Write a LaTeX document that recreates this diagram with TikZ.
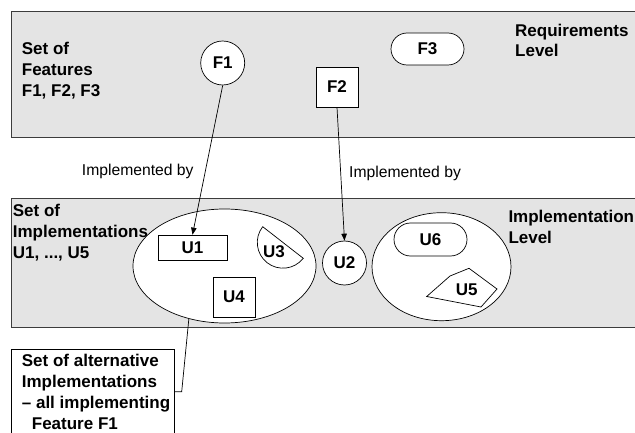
\documentclass[tikz,border=0pt]{standalone}
\usepackage{fontspec}
\setmainfont{Liberation Sans}
\usetikzlibrary{shapes.geometric,arrows.meta}
\definecolor{bandgray}{RGB}{228,228,228}
\definecolor{edgegray}{RGB}{60,60,60}
\begin{document}
\begin{tikzpicture}[x=1pt,y=1pt,yscale=-1,
  band/.style={fill=bandgray,draw=edgegray,line width=0.8pt},
  bfont/.style={font=\bfseries\fontsize{17}{20.8}\selectfont},
  lbl/.style={bfont,align=left,inner sep=0pt,anchor=north west},
  implby/.style={font=\fontsize{15.7}{19}\selectfont,inner sep=0pt,anchor=base west},
  shp/.style={draw=black,fill=white,line width=0.7pt,bfont,inner sep=0pt},
  txt/.style={bfont,inner sep=0pt},
  conn/.style={draw=black,line width=0.7pt},
  arr/.style={conn,-{Triangle[length=7pt,width=5.5pt]}},
  group/.style={ellipse,draw=black,fill=white,line width=0.7pt,inner sep=0pt}]

\useasboundingbox (0,0) rectangle (635,433);
\clip (0,0) rectangle (635,433);

% the two levels
\path[band] (11,11) rectangle (645,137);
\path[band] (11,198) rectangle (645,327);

% requirements level
\node[lbl] (featset) at (21.7,41.9) {Set of\\Features\\F1, F2, F3};
\node[lbl] (reqlvl) at (515,23.6) {Requirements\\Level};
\node[shp,circle,minimum size=44pt] (F1) at (222.7,63) {F1};
\node[shp,rectangle,minimum width=42pt,minimum height=40pt] (F2) at (337,87) {F2};
\node[shp,rectangle,rounded corners=16pt,minimum width=73pt,minimum height=32pt] (F3) at (427.5,49) {F3};

% implementation level
\node[lbl] (implset) at (12.7,204.3) {Set of\\Implementations\\U1, ..., U5};
\node[lbl] (impllvl) at (508.3,210.3) {Implementation\\Level};

\node[group,minimum width=183pt,minimum height=114pt] (E1) at (224.5,266) {};
\node[group,minimum width=139pt,minimum height=108pt] (E2) at (441.5,266.7) {};

\node[shp,rectangle,minimum width=69pt,minimum height=25pt] (U1) at (192.5,247.5) {U1};
\node[shp,circle,minimum size=44pt] (U2) at (344.5,263) {U2};
\node[shp,rectangle,minimum width=42pt,minimum height=40pt] (U4) at (234,297) {U4};
\node[shp,rectangle,rounded corners=16.5pt,minimum width=73pt,minimum height=33pt] (U6) at (430.5,239.5) {U6};

% U3: circular segment
\draw[draw=black,fill=white,line width=0.7pt] (262.7,226.7)
  arc[start angle=217.9,end angle=37.9,radius=25.7] -- cycle;
\node[txt] (U3) at (274,252) {U3};

% U5: pentagon
\draw[draw=black,fill=white,line width=0.7pt] (426.7,296.5) -- (450,276) -- (469,268.3)
  -- (497,289) -- (481,307) -- cycle;
\node[txt] (U5) at (466.7,290) {U5};

% realisation arrows
\draw[arr] (F1.south) -- (U1.north);
\draw[arr] (F2.south) -- (U2.north);
\node[implby] (ib1) at (81.7,176) {Implemented by};
\node[implby] (ib2) at (349,178) {Implemented by};

% callout for the group of alternatives
\coordinate (boxNW) at (11.7,349);
\coordinate (boxNE) at (174,349);
\coordinate (boxtip) at (174,391.7);
\coordinate (knee) at (181.7,391.7);
\draw[conn] (boxNE) ++(0,120) -- (boxNE) -- (boxNW) -- ++(0,120);
\node[lbl] (alttext) at (21.7,354.3) {Set of alternative\\Implementations\\%
  -- all implementing\\\hspace*{10pt}Feature F1};
\draw[conn] (E1.236) -- (knee) -- (boxtip);
\end{tikzpicture}
\end{document}
